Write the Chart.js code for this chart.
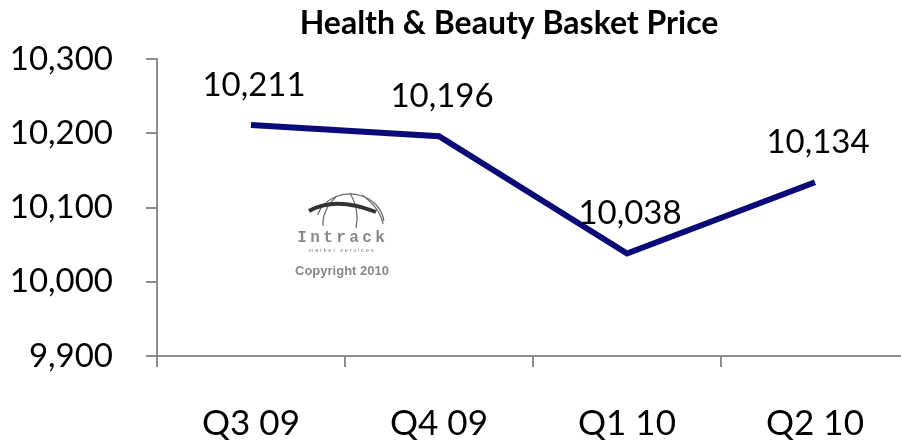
<!DOCTYPE html>
<html><head><meta charset="utf-8">
<script src="https://cdn.jsdelivr.net/npm/chart.js@4/dist/chart.umd.min.js"></script>
<style>html,body{margin:0;padding:0;overflow:hidden;background:#fff;width:901px;height:442px}canvas{display:block}</style>
</head><body>
<canvas id="c" width="912" height="442"></canvas>
<script>
const categories = ["Q3 09", "Q4 09", "Q1 10", "Q2 10"];
const prices = [10211, 10196, 10038, 10134];
const yTicks = [9900, 10000, 10100, 10200, 10300];
const titleText = "Health & Beauty Basket Price";

const FONT = "Lato, 'Open Sans', sans-serif";
const fmt = v => v.toLocaleString('en-US');

const dataLabels = {
  id: 'dataLabels',
  afterDatasetsDraw(chart) {
    const ctx = chart.ctx;
    const meta = chart.getDatasetMeta(0);
    ctx.save();
    ctx.font = "33px " + FONT;
    ctx.fillStyle = "#000";
    ctx.textAlign = "center";
    ctx.textBaseline = "middle";
    meta.data.forEach((pt, i) => {
      ctx.fillText(fmt(prices[i]), pt.x + 3, pt.y - 40);
    });
    ctx.restore();
  }
};

const titleAndMark = {
  id: 'titleAndMark',
  beforeDatasetsDraw(chart) {
    const ctx = chart.ctx;
    ctx.save();
    // watermark logo
    ctx.strokeStyle = "#666";
    ctx.lineWidth = 1.2;
    ctx.beginPath(); ctx.ellipse(350, 224, 34, 30, 0, Math.PI * 1.1, Math.PI * 1.97); ctx.stroke();
    ctx.beginPath(); ctx.moveTo(336, 197); ctx.quadraticCurveTo(322, 210, 323, 226); ctx.stroke();
    ctx.beginPath(); ctx.moveTo(350, 193); ctx.quadraticCurveTo(360, 210, 356, 228); ctx.stroke();
    ctx.beginPath(); ctx.moveTo(362, 195); ctx.quadraticCurveTo(380, 208, 383, 224); ctx.stroke();
    ctx.lineWidth = 4; ctx.strokeStyle = "#333";
    ctx.beginPath(); ctx.moveTo(309, 211); ctx.quadraticCurveTo(335, 196, 376, 212); ctx.stroke();
    ctx.fillStyle = "#888";
    ctx.textAlign = "center"; ctx.textBaseline = "alphabetic";
    ctx.font = "bold 16px 'Liberation Mono', monospace";
    const word = "Intrack"; let x0 = 302;
    for (const ch of word) { ctx.fillText(ch, x0, 242); x0 += 13; }
    ctx.font = "6px 'Liberation Sans', sans-serif";
    ctx.fillText("m a r k e t   s e r v i c e s", 341, 252);
    ctx.font = "bold 13px 'Liberation Sans', Arial, sans-serif";
    ctx.fillText("Copyright 2010", 342, 275);
    // title
    ctx.fillStyle = "#000";
    ctx.font = "bold 32px " + FONT;
    ctx.textBaseline = "alphabetic";
    ctx.fillText(titleText, 509, 34);
    ctx.restore();
  }
};

new Chart(document.getElementById('c'), {
  type: 'line',
  data: {
    labels: categories,
    datasets: [{
      data: prices,
      borderColor: '#0a0a78',
      borderWidth: 6,
      pointRadius: 0,
      tension: 0,
      fill: false
    }]
  },
  options: {
    responsive: false,
    animation: false,
    devicePixelRatio: 1,
    layout: { padding: { top: 59, right: 3, left: 0, bottom: 0 } },
    plugins: { legend: { display: false }, title: { display: false }, tooltip: { enabled: false } },
    scales: {
      x: {
        type: 'category',
        offset: true,
        border: { display: true, color: '#8c8c8c', width: 2 },
        grid: { display: true, offset: true, drawOnChartArea: false, drawTicks: true, tickLength: 11, color: '#8c8c8c', lineWidth: 2 },
        ticks: { color: '#000', font: { size: 35, family: FONT }, padding: 36, maxRotation: 0 },
        afterFit(s) { s.height = 442 - 356; }
      },
      y: {
        min: 9900, max: 10300,
        afterBuildTicks(s) { s.ticks = yTicks.map(v => ({ value: v })); },
        border: { display: true, color: '#8c8c8c', width: 2 },
        grid: { display: true, drawOnChartArea: false, drawTicks: true, tickLength: 11, color: '#8c8c8c', lineWidth: 2 },
        ticks: { color: '#000', font: { size: 33, family: FONT }, padding: 33, callback: v => fmt(v) },
        afterFit(s) { s.width = 157; }
      }
    }
  },
  plugins: [titleAndMark, dataLabels]
});
</script>
</body></html>
